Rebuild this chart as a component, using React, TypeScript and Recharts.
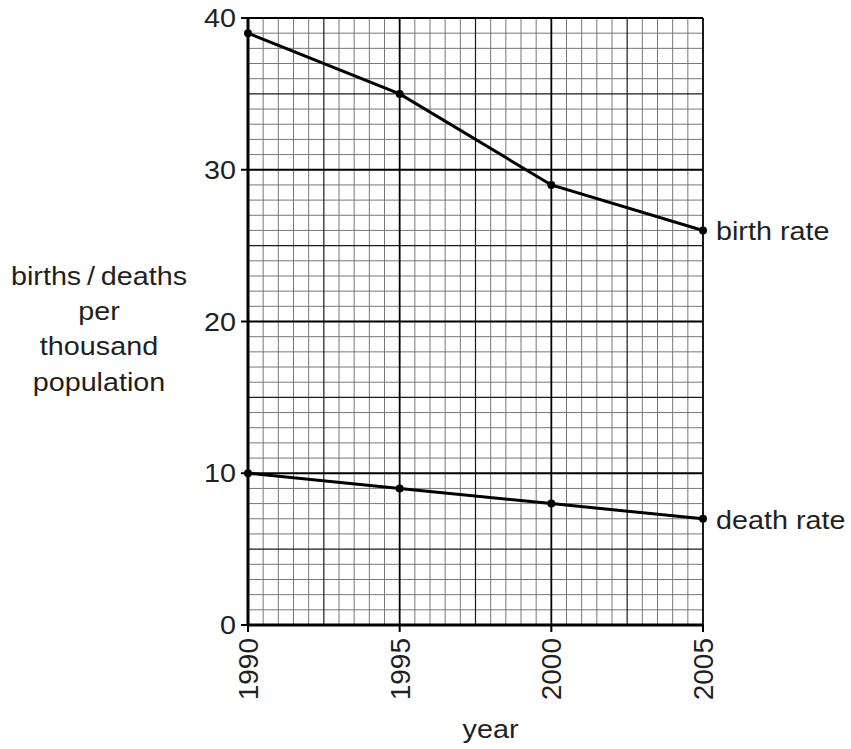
import React from "react";
import { LineChart, Line, XAxis, YAxis, ReferenceLine, LabelList, Label } from "recharts";

const years = [1990, 1995, 2000, 2005];
const birthRate = [39, 35, 29, 26];
const deathRate = [10, 9, 8, 7];
const yTicks = [0, 10, 20, 30, 40];
const seriesNames = ["birth rate", "death rate"];
const yLabelLines = ["births\u2009/\u2009deaths", "per", "thousand", "population"];
const xLabel = "year";

const data = years.map((y, i) => ({ year: y, birth: birthRate[i], death: deathRate[i] }));

const minorX: number[] = [];
for (let v = 1990; v <= 2005.001; v += 0.5) minorX.push(Math.round(v * 10) / 10);
const minorY: number[] = [];
for (let v = 0; v <= 40; v += 1) minorY.push(v);
const midX = minorX.filter((v) => Math.abs((v - 1990) % 2.5) < 1e-6 && !years.includes(v));
const midY = minorY.filter((v) => v % 5 === 0 && v % 10 !== 0);
const fineX = minorX.filter((v) => !midX.includes(v) && !years.includes(v));
const fineY = minorY.filter((v) => !midY.includes(v) && !yTicks.includes(v));

const FONT = '"Liberation Sans", Arial, Helvetica, sans-serif';
const INK = "#231f20";
const SX = 1.15;

const YTick = (props: any) => {
  const { x, y, payload } = props;
  return (
    <text
      transform={`translate(${x},${y + 9}) scale(${SX},1)`}
      textAnchor="end"
      fontFamily={FONT}
      fontSize={25}
      fill={INK}
    >
      {payload.value}
    </text>
  );
};

const XTick = (props: any) => {
  const { x, y, payload } = props;
  return (
    <text
      transform={`translate(${x + 10},${y}) rotate(-90)`}
      textAnchor="end"
      fontFamily={FONT}
      fontSize={28}
      fill={INK}
    >
      {payload.value}
    </text>
  );
};

const makeEndLabel = (name: string) => (props: any) => {
  const { x, y, index } = props;
  if (index !== years.length - 1) return null;
  return (
    <text
      transform={`translate(${x + 13},${y + 10}) scale(${SX},1)`}
      textAnchor="start"
      fontFamily={FONT}
      fontSize={25}
      fill={INK}
    >
      {name}
    </text>
  );
};

const YLabel = (props: any) => {
  const vb = props.viewBox || { x: 0, y: 0, width: 0, height: 0 };
  const cy = vb.y + vb.height / 2;
  const offsets = [-36.5, -1.5, 33.5, 69.5];
  return (
    <g>
      {yLabelLines.map((t, i) => (
        <text
          key={i}
          transform={`translate(99,${cy + offsets[i]}) scale(${SX},1)`}
          textAnchor="middle"
          fontFamily={FONT}
          fontSize={25}
          fill={INK}
        >
          {t}
        </text>
      ))}
    </g>
  );
};

const XLabel = (props: any) => {
  const vb = props.viewBox || { x: 0, y: 0, width: 0, height: 0 };
  return (
    <text
      transform={`translate(${vb.x + vb.width / 2 + 15},${vb.y + 113}) scale(${SX},1)`}
      textAnchor="middle"
      fontFamily={FONT}
      fontSize={25}
      fill={INK}
    >
      {xLabel}
    </text>
  );
};

export default function App() {
  return (
    <div style={{ position: "absolute", left: 0, top: 0, width: 851, height: 749, background: "#fff" }}>
      <LineChart
        width={851}
        height={749}
        data={data}
        margin={{ top: 18, right: 148, bottom: 0, left: 0 }}
      >
        <XAxis
          dataKey="year"
          type="number"
          domain={[1990, 2005]}
          ticks={years}
          interval={0}
          height={124}
          tickSize={7}
          tickMargin={6}
          tick={<XTick />}
          axisLine={{ stroke: "#000", strokeWidth: 3 }}
          tickLine={{ stroke: "#000", strokeWidth: 2 }}
        >
          <Label content={<XLabel />} />
        </XAxis>
        <YAxis
          type="number"
          domain={[0, 40]}
          ticks={yTicks}
          interval={0}
          width={248}
          tickSize={7}
          tickMargin={5}
          tick={<YTick />}
          axisLine={{ stroke: "#000", strokeWidth: 3 }}
          tickLine={{ stroke: "#000", strokeWidth: 2 }}
        >
          <Label content={<YLabel />} />
        </YAxis>

        {fineX.map((v) => (
          <ReferenceLine key={"fx" + v} x={v} stroke="#777" strokeWidth={1} ifOverflow="visible" />
        ))}
        {fineY.map((v) => (
          <ReferenceLine key={"fy" + v} y={v} stroke="#777" strokeWidth={1} ifOverflow="visible" />
        ))}
        {midX.map((v) => (
          <ReferenceLine key={"mx" + v} x={v} stroke="#1a1a1a" strokeWidth={1.2} ifOverflow="visible" />
        ))}
        {midY.map((v) => (
          <ReferenceLine key={"my" + v} y={v} stroke="#1a1a1a" strokeWidth={1.2} ifOverflow="visible" />
        ))}
        {years.map((v) => (
          <ReferenceLine key={"Mx" + v} x={v} stroke="#000" strokeWidth={1.8} ifOverflow="visible" />
        ))}
        {yTicks.map((v) => (
          <ReferenceLine key={"My" + v} y={v} stroke="#000" strokeWidth={1.8} ifOverflow="visible" />
        ))}

        <Line
          dataKey="birth"
          stroke="#000"
          strokeWidth={3}
          dot={{ r: 4, fill: "#000", stroke: "none" }}
          activeDot={false}
          isAnimationActive={false}
        >
          <LabelList dataKey="birth" content={makeEndLabel(seriesNames[0])} />
        </Line>
        <Line
          dataKey="death"
          stroke="#000"
          strokeWidth={3}
          dot={{ r: 4, fill: "#000", stroke: "none" }}
          activeDot={false}
          isAnimationActive={false}
        >
          <LabelList dataKey="death" content={makeEndLabel(seriesNames[1])} />
        </Line>
      </LineChart>
    </div>
  );
}
